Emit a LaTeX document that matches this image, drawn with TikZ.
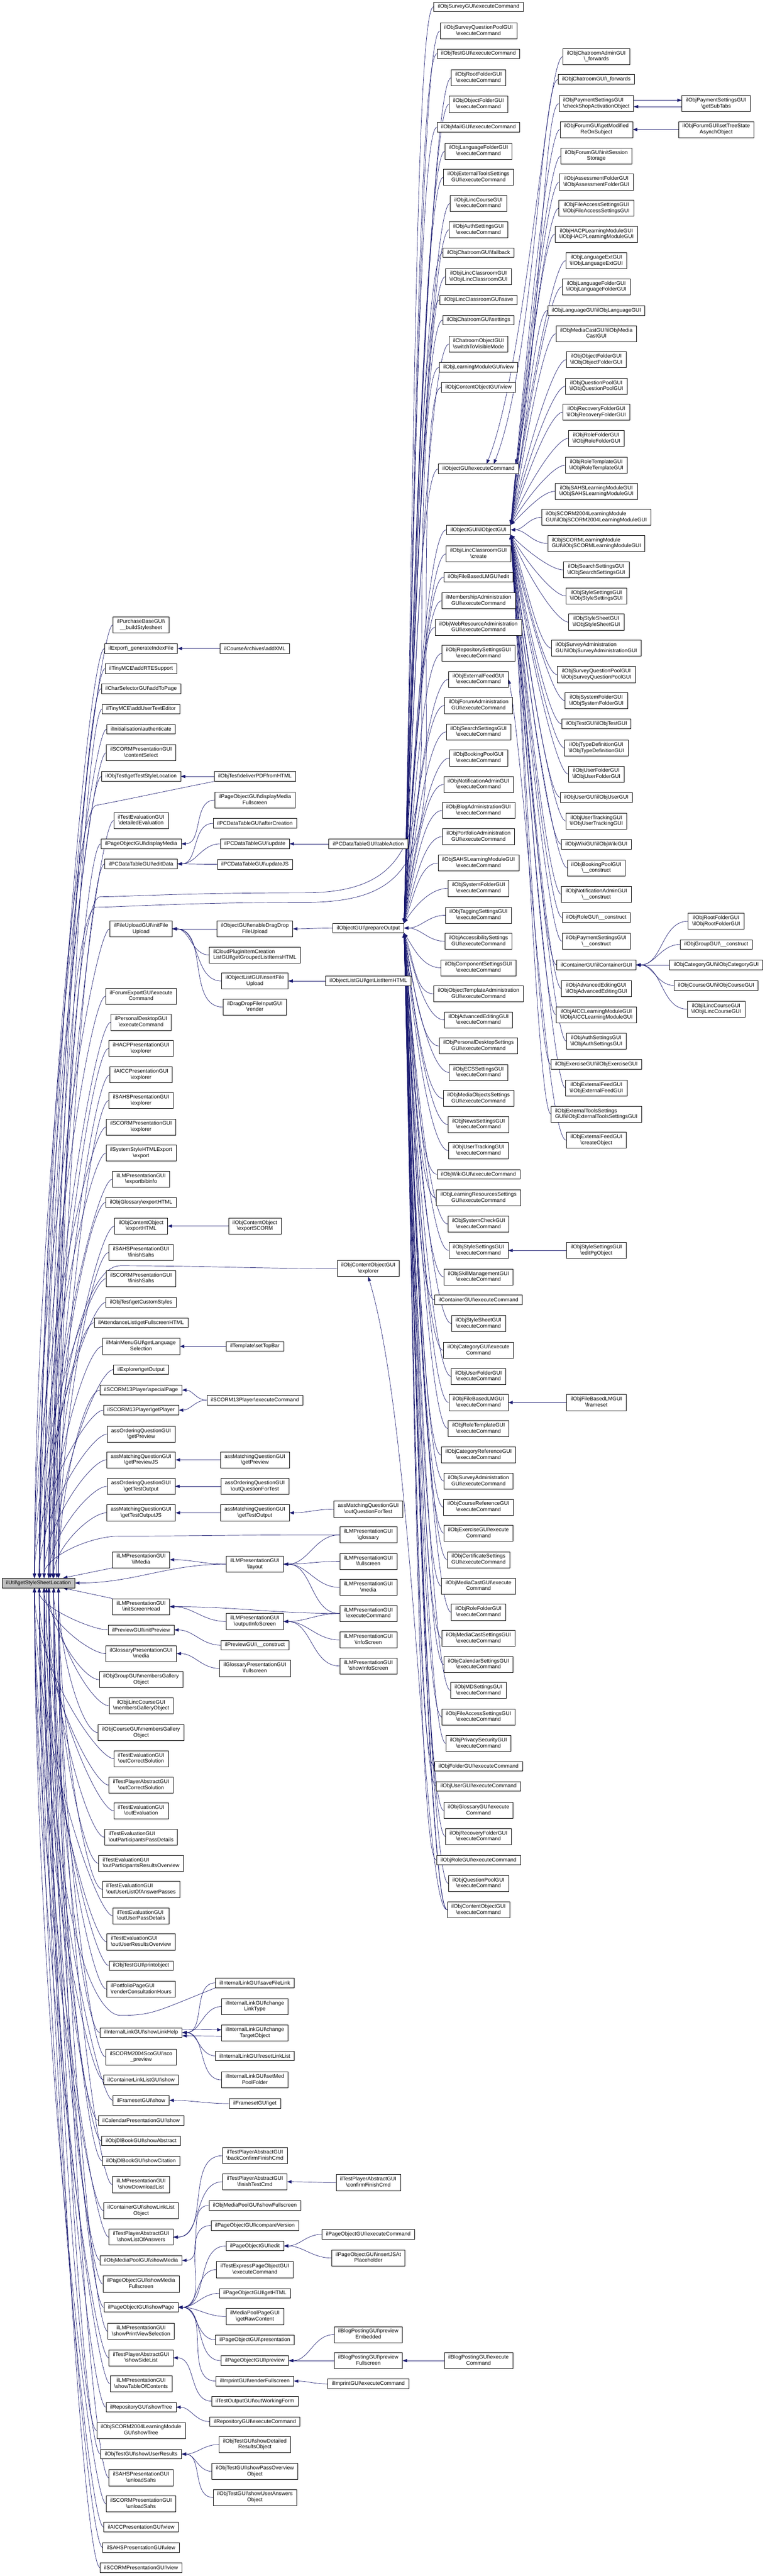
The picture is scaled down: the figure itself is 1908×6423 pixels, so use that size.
\documentclass[tikz,border=0pt]{standalone}
\usepackage{fontspec}
\newfontfamily\gfont{Liberation Sans}
\usetikzlibrary{arrows.meta,backgrounds}
\definecolor{edgecol}{HTML}{191970}
\definecolor{rootgray}{HTML}{BFBFBF}
\newcommand{\bsl}{\textbackslash}
\newcommand{\twol}[2]{\begin{tabular}{@{}c@{}}#1\\#2\end{tabular}}
\newcommand{\twoleft}[2]{\begin{tabular}{@{}l@{}}#1\\#2\end{tabular}}
\tikzset{
  fn/.style={draw=black, line width=0.9pt, fill=white, inner xsep=10pt, inner ysep=5pt,
    minimum height=24pt, font=\gfont\fontsize{13.3pt}{15pt}\selectfont},
  rootfn/.style={fn, fill=rootgray},
  call/.style={draw=edgecol, line width=0.9pt, -{Triangle[length=11pt,width=8pt]}},
}
\begin{document}
\begin{tikzpicture}[x=1pt,y=-1pt]
\useasboundingbox (0,0) rectangle (1908,6423);
\begin{pgfonlayer}{background}
  \fill[white] (0,0) rectangle (1908,6423);
\end{pgfonlayer}
% Wurzel
\node[rootfn] (root) at (96,3947) {ilUtil\bsl getStyleSheetLocation};
% Spalte B, oberhalb der Wurzel
\foreach \n/\y/\t [count=\i] in {
  bPurchase/1558/{\twol{ilPurchaseBaseGUI\bsl}{\_\_buildStylesheet}},
  bExport/1617/{ilExport\bsl\_generateIndexFile},
  bRte/1667/{ilTinyMCE\bsl addRTESupport},
  bCharSel/1717/{ilCharSelectorGUI\bsl addToPage},
  bUserEd/1768/{ilTinyMCE\bsl addUserTextEditor},
  bAuth/1818/{ilInitialisation\bsl authenticate},
  bScoSel/1877/{\twol{ilSCORMPresentationGUI}{\bsl contentSelect}},
  bTestStyle/1936/{ilObjTest\bsl getTestStyleLocation},
  bDetEval/2046/{\twol{ilTestEvaluationGUI}{\bsl detailedEvaluation}},
  bDispMedia/2104/{ilPageObjectGUI\bsl displayMedia},
  bEditData/2154/{ilPCDataTableGUI\bsl editData},
  bFileUp/2316/{\twol{ilFileUploadGUI\bsl initFile}{Upload}},
  bForumExp/2484/{\twol{ilForumExportGUI\bsl execute}{Command}},
  bPdExec/2549/{\twol{ilPersonalDesktopGUI}{\bsl executeCommand}},
  bHacpExpl/2614/{\twol{ilHACPPresentationGUI}{\bsl explorer}},
  bAiccExpl/2680/{\twol{ilAICCPresentationGUI}{\bsl explorer}},
  bSahsExpl/2744/{\twol{ilSAHSPresentationGUI}{\bsl explorer}},
  bScormExpl/2810/{\twol{ilSCORMPresentationGUI}{\bsl explorer}},
  bStyleExp/2875/{\twol{ilSystemStyleHTMLExport}{\bsl export}},
  bBibinfo/2940/{\twol{ilLMPresentationGUI}{\bsl exportbibinfo}},
  bGlossHtml/2998/{ilObjGlossary\bsl exportHTML},
  bCoHtml/3057/{\twol{ilObjContentObject}{\bsl exportHTML}},
  bSahsFinish/3123/{\twol{ilSAHSPresentationGUI}{\bsl finishSahs}},
  bScormFinish/3188/{\twol{ilSCORMPresentationGUI}{\bsl finishSahs}},
  bCustStyles/3247/{ilObjTest\bsl getCustomStyles},
  bAttend/3298/{ilAttendanceList\bsl getFullscreenHTML},
  bLangSel/3357/{\twol{ilMainMenuGUI\bsl getLanguage}{Selection}},
  bExplOut/3415/{ilExplorer\bsl getOutput},
  bSpecial/3466/{ilSCORM13Player\bsl specialPage},
  bPlayer/3516/{ilSCORM13Player\bsl getPlayer},
  bOrdPrev/3576/{\twol{assOrderingQuestionGUI}{\bsl getPreview}},
  bMatchPrevJs/3640/{\twol{assMatchingQuestionGUI}{\bsl getPreviewJS}},
  bOrdOut/3706/{\twol{assOrderingQuestionGUI}{\bsl getTestOutput}},
  bMatchOutJs/3772/{\twol{assMatchingQuestionGUI}{\bsl getTestOutputJS}}}{
  \node[fn] (\n) at (352,\y) {\t};
  \pgfmathsetmacro\kk{0.45*(3935-\y)}
  \pgfmathsetmacro\sx{mod(\i,6)*12-10}
  \begin{pgfonlayer}{background}
    \draw[call] (\n.west) .. controls +(-40,0) and +(0,-\kk) .. ([xshift=\sx pt]root.north);
  \end{pgfonlayer}
}
\node[fn] (bIlMedia) at (352,3889) {\twol{ilLMPresentationGUI}{\bsl ilMedia}};
\node[fn] (bInitHead) at (352,4006) {\twol{ilLMPresentationGUI}{\bsl initScreenHead}};
% Spalte B, unterhalb der Wurzel
\foreach \n/\y/\t [count=\i] in {
  bInitPrev/4064/{ilPreviewGUI\bsl initPreview},
  bGlossMedia/4123/{\twol{ilGlossaryPresentationGUI}{\bsl media}},
  bGrpGallery/4188/{\twol{ilObjGroupGUI\bsl membersGallery}{Object}},
  bLincGallery/4253/{\twol{ilObjiLincCourseGUI}{\bsl membersGalleryObject}},
  bCrsGallery/4320/{\twol{ilObjCourseGUI\bsl membersGallery}{Object}},
  bEvalCorr/4385/{\twol{ilTestEvaluationGUI}{\bsl outCorrectSolution}},
  bPlayCorr/4451/{\twol{ilTestPlayerAbstractGUI}{\bsl outCorrectSolution}},
  bEvalOut/4515/{\twol{ilTestEvaluationGUI}{\bsl outEvaluation}},
  bPassDet/4581/{\twoleft{ilTestEvaluationGUI}{\bsl outParticipantsPassDetails}},
  bResOv/4646/{\twoleft{ilTestEvaluationGUI}{\bsl outParticipantsResultsOverview}},
  bAnsPass/4711/{\twoleft{ilTestEvaluationGUI}{\bsl outUserListOfAnswerPasses}},
  bUserPass/4777/{\twoleft{ilTestEvaluationGUI}{\bsl outUserPassDetails}},
  bUserRes/4842/{\twoleft{ilTestEvaluationGUI}{\bsl outUserResultsOverview}},
  bPrint/4901/{ilObjTestGUI\bsl printobject},
  bConsult/4960/{\twoleft{ilPortfolioPageGUI}{\bsl renderConsultationHours}},
  bLinkHelp/5068/{ilInternalLinkGUI\bsl showLinkHelp},
  bScoPrev/5129/{\twol{ilSCORM2004ScoGUI\bsl sco}{\_preview}},
  bLinkList/5186/{ilContainerLinkListGUI\bsl show},
  bFrameShow/5237/{ilFramesetGUI\bsl show},
  bCalShow/5287/{ilCalendarPresentationGUI\bsl show},
  bAbstract/5338/{ilObjDlBookGUI\bsl showAbstract},
  bCitation/5388/{ilObjDlBookGUI\bsl showCitation},
  bDownload/5447/{\twol{ilLMPresentationGUI}{\bsl showDownloadList}},
  bLinkListObj/5512/{\twol{ilContainerGUI\bsl showLinkList}{Object}},
  bListAns/5578/{\twol{ilTestPlayerAbstractGUI}{\bsl showListOfAnswers}},
  bMpMedia/5636/{ilObjMediaPoolGUI\bsl showMedia},
  bMediaFull/5695/{\twol{ilPageObjectGUI\bsl showMedia}{Fullscreen}},
  bShowPage/5753/{ilPageObjectGUI\bsl showPage},
  bPrintSel/5813/{\twol{ilLMPresentationGUI}{\bsl showPrintViewSelection}},
  bSideList/5879/{\twol{ilTestPlayerAbstractGUI}{\bsl showSideList}},
  bToc/5944/{\twol{ilLMPresentationGUI}{\bsl showTableOfContents}},
  bRepoTree/6002/{ilRepositoryGUI\bsl showTree},
  bScormTree/6060/{\twol{ilObjSCORM2004LearningModule}{GUI\bsl showTree}},
  bUserResults/6119/{ilObjTestGUI\bsl showUserResults},
  bSahsUnload/6178/{\twol{ilSAHSPresentationGUI}{\bsl unloadSahs}},
  bScormUnload/6243/{\twol{ilSCORMPresentationGUI}{\bsl unloadSahs}},
  bAiccView/6301/{ilAICCPresentationGUI\bsl view},
  bSahsView/6352/{ilSAHSPresentationGUI\bsl view},
  bScormView/6402/{ilSCORMPresentationGUI\bsl view}}{
  \node[fn] (\n) at (352,\y) {\t};
  \pgfmathsetmacro\kk{0.45*(\y-3959)}
  \pgfmathsetmacro\sx{mod(\i,6)*12-10}
  \begin{pgfonlayer}{background}
    \draw[call] (\n.west) .. controls +(-40,0) and +(0,\kk) .. ([xshift=\sx pt]root.south);
  \end{pgfonlayer}
}
% Spalte C
\foreach \n/\y/\d/\t in {
  cAddXml/1617/bExport/{ilCourseArchives\bsl addXML},
  cPdf/1936/bTestStyle/{ilObjTest\bsl deliverPDFfromHTML},
  cDispFull/1995/bDispMedia/{\twol{ilPageObjectGUI\bsl displayMedia}{Fullscreen}},
  cAfterCr/2053/bEditData/{ilPCDataTableGUI\bsl afterCreation},
  cUpdate/2104/bEditData/{ilPCDataTableGUI\bsl update},
  cUpdateJs/2155/bEditData/{ilPCDataTableGUI\bsl updateJS},
  cDragDrop/2316/bFileUp/{\twol{ilObjectGUI\bsl enableDragDrop}{FileUpload}},
  cInsert/2446/bFileUp/{\twol{ilObjectListGUI\bsl insertFile}{Upload}},
  cDdRender/2511/bFileUp/{\twol{ilDragDropFileInputGUI}{\bsl render}},
  cScorm/3057/bCoHtml/{\twol{ilObjContentObject}{\bsl exportSCORM}},
  cTopBar/3357/bLangSel/{ilTemplate\bsl setTopBar},
  cPlayerExec/3491/bSpecial/{ilSCORM13Player\bsl executeCommand},
  cMatchPrev/3640/bMatchPrevJs/{\twol{assMatchingQuestionGUI}{\bsl getPreview}},
  cOrdQft/3706/bOrdOut/{\twol{assOrderingQuestionGUI}{\bsl outQuestionForTest}},
  cMatchOut/3772/bMatchOutJs/{\twol{assMatchingQuestionGUI}{\bsl getTestOutput}},
  cLayout/3900/bIlMedia/{\twol{ilLMPresentationGUI}{\bsl layout}},
  cOutInfo/4043/bInitHead/{\twol{ilLMPresentationGUI}{\bsl outputInfoScreen}},
  cPrevCtor/4102/bInitPrev/{ilPreviewGUI\bsl\_\_construct},
  cGlossFull/4160/bGlossMedia/{\twol{ilGlossaryPresentationGUI}{\bsl fullscreen}},
  cSaveFile/4944/bLinkHelp/{ilInternalLinkGUI\bsl saveFileLink},
  cChLink/5003/bLinkHelp/{\twol{ilInternalLinkGUI\bsl change}{LinkType}},
  cReset/5126/bLinkHelp/{ilInternalLinkGUI\bsl resetLinkList},
  cMedPool/5186/bLinkHelp/{\twol{ilInternalLinkGUI\bsl setMed}{PoolFolder}},
  cFrameGet/5245/bFrameShow/{ilFramesetGUI\bsl get},
  cBackConf/5375/bListAns/{\twol{ilTestPlayerAbstractGUI}{\bsl backConfirmFinishCmd}},
  cFinish/5440/bListAns/{\twol{ilTestPlayerAbstractGUI}{\bsl finishTestCmd}},
  cMpFull/5499/bMpMedia/{ilObjMediaPoolGUI\bsl showFullscreen},
  cCompare/5549/bShowPage/{ilPageObjectGUI\bsl compareVersion},
  cEdit/5600/bShowPage/{ilPageObjectGUI\bsl edit},
  cExpress/5659/bShowPage/{\twol{ilTestExpressPageObjectGUI}{\bsl executeCommand}},
  cGetHtml/5718/bShowPage/{ilPageObjectGUI\bsl getHTML},
  cRawCont/5776/bShowPage/{\twol{ilMediaPoolPageGUI}{\bsl getRawContent}},
  cPresent/5834/bShowPage/{ilPageObjectGUI\bsl presentation},
  cPreview/5886/bShowPage/{ilPageObjectGUI\bsl preview},
  cImprint/5937/bShowPage/{ilImprintGUI\bsl renderFullscreen},
  cWorkForm/5987/bSideList/{ilTestOutputGUI\bsl outWorkingForm},
  cRepoExec/6038/bRepoTree/{ilRepositoryGUI\bsl executeCommand},
  cDetRes/6095/bUserResults/{\twol{ilObjTestGUI\bsl showDetailed}{ResultsObject}},
  cPassOv/6162/bUserResults/{\twol{ilObjTestGUI\bsl showPassOverview}{Object}},
  cUserAns/6227/bUserResults/{\twol{ilObjTestGUI\bsl showUserAnswers}{Object}}}{
  \node[fn] (\n) at (636,\y) {\t};
  \begin{pgfonlayer}{background}
    \draw[call] (\n.west) to[out=180,in=0] (\d.east);
  \end{pgfonlayer}
}
\node[fn] (cCloud) at (636,2381) {\twoleft{ilCloudPluginItemCreation}{ListGUI\bsl getGroupedListItemsHTML}};
\node[fn] (cChTarget) at (636,5069) {\twol{ilInternalLinkGUI\bsl change}{TargetObject}};
% Spalte D
\foreach \n/\y/\d/\t in {
  dTableAct/2104/cUpdate/{ilPCDataTableGUI\bsl tableAction},
  prepare/2314/cDragDrop/{ilObjectGUI\bsl prepareOutput},
  dListHtml/2446/cInsert/{ilObjectListGUI\bsl getListItemHTML},
  dMatchQft/3763/cMatchOut/{\twol{assMatchingQuestionGUI}{\bsl outQuestionForTest}},
  dGloss/3827/cLayout/{\twol{ilLMPresentationGUI}{\bsl glossary}},
  dFull/3893/cLayout/{\twol{ilLMPresentationGUI}{\bsl fullscreen}},
  dMedia/3958/cLayout/{\twol{ilLMPresentationGUI}{\bsl media}},
  dLmExec/4023/cLayout/{\twol{ilLMPresentationGUI}{\bsl executeCommand}},
  dInfo/4089/cOutInfo/{\twol{ilLMPresentationGUI}{\bsl infoScreen}},
  dShowInfo/4154/cOutInfo/{\twol{ilLMPresentationGUI}{\bsl showInfoScreen}},
  dConfirm/5442/cFinish/{\twol{ilTestPlayerAbstractGUI}{\bsl confirmFinishCmd}},
  dPoExec/5571/cEdit/{ilPageObjectGUI\bsl executeCommand},
  dJsAt/5630/cEdit/{\twol{ilPageObjectGUI\bsl insertJSAt}{Placeholder}},
  dBlogEmb/5821/cPreview/{\twol{ilBlogPostingGUI\bsl preview}{Embedded}},
  dBlogFull/5886/cPreview/{\twol{ilBlogPostingGUI\bsl preview}{Fullscreen}},
  dImpExec/5944/cImprint/{ilImprintGUI\bsl executeCommand}}{
  \node[fn] (\n) at (919,\y) {\t};
  \begin{pgfonlayer}{background}
    \draw[call] (\n.west) to[out=180,in=0] (\d.east);
  \end{pgfonlayer}
}
\node[fn] (dCoExpl) at (919,3163) {\twol{ilObjContentObjectGUI}{\bsl explorer}};
% Spalte E, oberhalb prepareOutput
\foreach \n/\y/\t in {
  eSurvey/17/{ilObjSurveyGUI\bsl executeCommand},
  eSurveyPool/77/{\twol{ilObjSurveyQuestionPoolGUI}{\bsl executeCommand}},
  eTest/134/{ilObjTestGUI\bsl executeCommand},
  eRootFolder/194/{\twol{ilObjRootFolderGUI}{\bsl executeCommand}},
  eObjFolder/260/{\twol{ilObjObjectFolderGUI}{\bsl executeCommand}},
  eMail/317/{ilObjMailGUI\bsl executeCommand},
  eLangFolder/377/{\twol{ilObjLanguageFolderGUI}{\bsl executeCommand}},
  eExtTools/442/{\twol{ilObjExternalToolsSettings}{GUI\bsl executeCommand}},
  eLincCourse/507/{\twol{ilObjiLincCourseGUI}{\bsl executeCommand}},
  eAuth/573/{\twol{ilObjAuthSettingsGUI}{\bsl executeCommand}},
  eChatFallback/630/{ilObjChatroomGUI\bsl fallback},
  eLincClass/690/{\twol{ilObjiLincClassroomGUI}{\bsl ilObjiLincClassroomGUI}},
  eLincSave/748/{ilObjiLincClassroomGUI\bsl save},
  eChatSet/798/{ilObjChatroomGUI\bsl settings},
  eChatSwitch/858/{\twol{ilChatroomObjectGUI}{\bsl switchToVisibleMode}},
  objexec/1169/{ilObjectGUI\bsl executeCommand},
  objctor/1321/{ilObjectGUI\bsl ilObjectGUI},
  eLincCreate/1381/{\twol{ilObjiLincClassroomGUI}{\bsl create}},
  eFblmEdit/1439/{ilObjFileBasedLMGUI\bsl edit},
  eMembership/1498/{\twol{ilMembershipAdministration}{GUI\bsl executeCommand}},
  eWebRes/1564/{\twol{ilObjWebResourceAdministration}{GUI\bsl executeCommand}},
  eRepoSet/1629/{\twol{ilObjRepositorySettingsGUI}{\bsl executeCommand}},
  eFeed/1694/{\twol{ilObjExternalFeedGUI}{\bsl executeCommand}},
  eForumAdm/1759/{\twol{ilObjForumAdministration}{GUI\bsl executeCommand}},
  eSearchSet/1825/{\twol{ilObjSearchSettingsGUI}{\bsl executeCommand}},
  eBooking/1890/{\twol{ilObjBookingPoolGUI}{\bsl executeCommand}},
  eNotif/1956/{\twol{ilObjNotificationAdminGUI}{\bsl executeCommand}},
  eBlogAdm/2021/{\twol{ilObjBlogAdministrationGUI}{\bsl executeCommand}},
  ePortAdm/2086/{\twol{ilObjPortfolioAdministration}{GUI\bsl executeCommand}},
  eSahs/2152/{\twol{ilObjSAHSLearningModuleGUI}{\bsl executeCommand}},
  eSysFolder/2215/{\twol{ilObjSystemFolderGUI}{\bsl executeCommand}}}{
  \node[fn] (\n) at (1194,\y) {\t};
  \pgfmathsetmacro\kk{0.45*(2302-\y)}
  \begin{pgfonlayer}{background}
    \draw[call] (\n.west) .. controls +(-45,0) and +(25,-\kk) .. (prepare.north east);
  \end{pgfonlayer}
}
\node[fn] (eLmView) at (1194,916) {ilObjLearningModuleGUI\bsl view};
\node[fn] (eCoView) at (1194,966) {ilObjContentObjectGUI\bsl view};
\node[fn] (eTagging) at (1194,2282) {\twol{ilObjTaggingSettingsGUI}{\bsl executeCommand}};
\node[fn] (eAccess) at (1194,2347) {\twol{ilObjAccessibilitySettings}{GUI\bsl executeCommand}};
% Spalte E, unterhalb prepareOutput
\foreach \n/\y/\t in {
  eComponent/2413/{\twol{ilObjComponentSettingsGUI}{\bsl executeCommand}},
  eTemplAdm/2478/{\twol{ilObjObjectTemplateAdministration}{GUI\bsl executeCommand}},
  eAdvEdit/2543/{\twol{ilObjAdvancedEditingGUI}{\bsl executeCommand}},
  ePdSet/2608/{\twol{ilObjPersonalDesktopSettings}{GUI\bsl executeCommand}},
  eEcs/2674/{\twol{ilObjECSSettingsGUI}{\bsl executeCommand}},
  eMediaObj/2739/{\twol{ilObjMediaObjectsSettings}{GUI\bsl executeCommand}},
  eNews/2804/{\twol{ilObjNewsSettingsGUI}{\bsl executeCommand}},
  eUserTrack/2869/{\twol{ilObjUserTrackingGUI}{\bsl executeCommand}},
  eWiki/2928/{ilObjWikiGUI\bsl executeCommand},
  eLrSet/2987/{\twol{ilObjLearningResourcesSettings}{GUI\bsl executeCommand}},
  eSysCheck/3052/{\twol{ilObjSystemCheckGUI}{\bsl executeCommand}},
  eStyleSet/3118/{\twol{ilObjStyleSettingsGUI}{\bsl executeCommand}},
  eSkill/3184/{\twol{ilObjSkillManagementGUI}{\bsl executeCommand}},
  eContainer/3241/{ilContainerGUI\bsl executeCommand},
  eStyleSheet/3300/{\twol{ilObjStyleSheetGUI}{\bsl executeCommand}},
  eCategory/3367/{\twol{ilObjCategoryGUI\bsl execute}{Command}},
  eUserFolder/3432/{\twol{ilObjUserFolderGUI}{\bsl executeCommand}},
  eFblm/3497/{\twol{ilObjFileBasedLMGUI}{\bsl executeCommand}},
  eRoleTempl/3562/{\twol{ilObjRoleTemplateGUI}{\bsl executeCommand}},
  eCatRef/3628/{\twol{ilObjCategoryReferenceGUI}{\bsl executeCommand}},
  eSurveyAdm/3693/{\twol{ilObjSurveyAdministration}{GUI\bsl executeCommand}},
  eCrsRef/3758/{\twol{ilObjCourseReferenceGUI}{\bsl executeCommand}},
  eExercise/3823/{\twol{ilObjExerciseGUI\bsl execute}{Command}},
  eCertif/3889/{\twol{ilObjCertificateSettings}{GUI\bsl executeCommand}},
  eMediaCast/3955/{\twol{ilObjMediaCastGUI\bsl execute}{Command}},
  eRoleFolder/4020/{\twol{ilObjRoleFolderGUI}{\bsl executeCommand}},
  eMcSet/4085/{\twol{ilObjMediaCastSettingsGUI}{\bsl executeCommand}},
  eCalSet/4150/{\twol{ilObjCalendarSettingsGUI}{\bsl executeCommand}},
  eMdSet/4215/{\twol{ilObjMDSettingsGUI}{\bsl executeCommand}},
  eFileAcc/4281/{\twol{ilObjFileAccessSettingsGUI}{\bsl executeCommand}},
  ePrivacy/4347/{\twol{ilObjPrivacySecurityGUI}{\bsl executeCommand}},
  eFolder/4404/{ilObjFolderGUI\bsl executeCommand},
  eUser/4454/{ilObjUserGUI\bsl executeCommand},
  eGlossary/4514/{\twol{ilObjGlossaryGUI\bsl execute}{Command}},
  eRecovery/4579/{\twol{ilObjRecoveryFolderGUI}{\bsl executeCommand}},
  eRole/4638/{ilObjRoleGUI\bsl executeCommand},
  eQPool/4696/{\twol{ilObjQuestionPoolGUI}{\bsl executeCommand}},
  eCoExec/4762/{\twol{ilObjContentObjectGUI}{\bsl executeCommand}}}{
  \node[fn] (\n) at (1194,\y) {\t};
  \pgfmathsetmacro\kk{0.45*(\y-2326)}
  \begin{pgfonlayer}{background}
    \draw[call] (\n.west) .. controls +(-45,0) and +(25,\kk) .. (prepare.south east);
  \end{pgfonlayer}
}
\node[fn] (eBlogExec) at (1194,5886) {\twol{ilBlogPostingGUI\bsl execute}{Command}};
% Spalte F, oberhalb ilObjectGUI
\foreach \n/\y/\t in {
  fForumMod/323/{\twol{ilObjForumGUI\bsl getModified}{ReOnSubject}},
  fForumInit/389/{\twol{ilObjForumGUI\bsl initSession}{Storage}},
  fAssess/454/{\twol{ilObjAssessmentFolderGUI}{\bsl ilObjAssessmentFolderGUI}},
  fFileAcc/519/{\twol{ilObjFileAccessSettingsGUI}{\bsl ilObjFileAccessSettingsGUI}},
  fHacp/584/{\twol{ilObjHACPLearningModuleGUI}{\bsl ilObjHACPLearningModuleGUI}},
  fLangExt/650/{\twol{ilObjLanguageExtGUI}{\bsl ilObjLanguageExtGUI}},
  fLangFolder/715/{\twol{ilObjLanguageFolderGUI}{\bsl ilObjLanguageFolderGUI}},
  fLang/774/{ilObjLanguageGUI\bsl ilObjLanguageGUI},
  fMediaCast/832/{\twol{ilObjMediaCastGUI\bsl ilObjMedia}{CastGUI}},
  fObjFolder/897/{\twol{ilObjObjectFolderGUI}{\bsl ilObjObjectFolderGUI}},
  fQPool/963/{\twol{ilObjQuestionPoolGUI}{\bsl ilObjQuestionPoolGUI}},
  fRecovery/1028/{\twol{ilObjRecoveryFolderGUI}{\bsl ilObjRecoveryFolderGUI}},
  fRoleFolder/1093/{\twol{ilObjRoleFolderGUI}{\bsl ilObjRoleFolderGUI}},
  fRoleTempl/1160/{\twol{ilObjRoleTemplateGUI}{\bsl ilObjRoleTemplateGUI}},
  fSahs/1225/{\twol{ilObjSAHSLearningModuleGUI}{\bsl ilObjSAHSLearningModuleGUI}}}{
  \node[fn] (\n) at (1488,\y) {\t};
  \pgfmathsetmacro\kk{0.45*(1309-\y)}
  \begin{pgfonlayer}{background}
    \draw[call] (\n.west) .. controls +(-30,0) and +(40,-\kk) .. (objctor.north east);
  \end{pgfonlayer}
}
\node[fn] (fScorm2004) at (1488,1290) {\twoleft{ilObjSCORM2004LearningModule}{GUI\bsl ilObjSCORM2004LearningModuleGUI}};
\node[fn] (fScorm) at (1488,1355) {\twoleft{ilObjSCORMLearningModule}{GUI\bsl ilObjSCORMLearningModuleGUI}};
% Spalte F, unterhalb ilObjectGUI
\foreach \n/\y/\t in {
  fSearch/1421/{\twol{ilObjSearchSettingsGUI}{\bsl ilObjSearchSettingsGUI}},
  fStyleSet/1486/{\twol{ilObjStyleSettingsGUI}{\bsl ilObjStyleSettingsGUI}},
  fStyleSheet/1551/{\twol{ilObjStyleSheetGUI}{\bsl ilObjStyleSheetGUI}},
  fSurveyAdm/1616/{\twoleft{ilObjSurveyAdministration}{GUI\bsl ilObjSurveyAdministrationGUI}},
  fSurveyPool/1682/{\twol{ilObjSurveyQuestionPoolGUI}{\bsl ilObjSurveyQuestionPoolGUI}},
  fSysFolder/1747/{\twol{ilObjSystemFolderGUI}{\bsl ilObjSystemFolderGUI}},
  fTest/1805/{ilObjTestGUI\bsl ilObjTestGUI},
  fTypeDef/1865/{\twol{ilObjTypeDefinitionGUI}{\bsl ilObjTypeDefinitionGUI}},
  fUserFolder/1930/{\twol{ilObjUserFolderGUI}{\bsl ilObjUserFolderGUI}},
  fUser/1988/{ilObjUserGUI\bsl ilObjUserGUI},
  fUserTrack/2047/{\twol{ilObjUserTrackingGUI}{\bsl ilObjUserTrackingGUI}},
  fWiki/2105/{ilObjWikiGUI\bsl ilObjWikiGUI},
  fBooking/2164/{\twol{ilObjBookingPoolGUI}{\bsl\_\_construct}},
  fNotif/2230/{\twol{ilObjNotificationAdminGUI}{\bsl\_\_construct}},
  fRole/2288/{ilObjRoleGUI\bsl\_\_construct},
  fPaySet/2347/{\twol{ilObjPaymentSettingsGUI}{\bsl\_\_construct}},
  fContainer/2406/{ilContainerGUI\bsl ilContainerGUI},
  fAdvEdit/2465/{\twol{ilObjAdvancedEditingGUI}{\bsl ilObjAdvancedEditingGUI}},
  fAicc/2530/{\twol{ilObjAICCLearningModuleGUI}{\bsl ilObjAICCLearningModuleGUI}},
  fAuth/2596/{\twol{ilObjAuthSettingsGUI}{\bsl ilObjAuthSettingsGUI}},
  fExercise/2654/{ilObjExerciseGUI\bsl ilObjExerciseGUI},
  fFeed/2713/{\twol{ilObjExternalFeedGUI}{\bsl ilObjExternalFeedGUI}},
  fExtTools/2778/{\twoleft{ilObjExternalToolsSettings}{GUI\bsl ilObjExternalToolsSettingsGUI}}}{
  \node[fn] (\n) at (1488,\y) {\t};
  \pgfmathsetmacro\kk{0.45*(\y-1333)}
  \begin{pgfonlayer}{background}
    \draw[call] (\n.west) .. controls +(-30,0) and +(40,\kk) .. (objctor.south east);
  \end{pgfonlayer}
}
\node[fn] (fChatAdm) at (1488,141) {\twol{ilObjChatroomAdminGUI}{\bsl\_forwards}};
\node[fn] (fChat) at (1488,198) {ilObjChatroomGUI\bsl\_forwards};
\node[fn] (fPayCheck) at (1488,258) {\twoleft{ilObjPaymentSettingsGUI}{\bsl checkShopActivationObject}};
\node[fn] (fFeedCreate) at (1488,2843) {\twol{ilObjExternalFeedGUI}{\bsl createObject}};
\node[fn] (fEditPg) at (1488,3118) {\twol{ilObjStyleSettingsGUI}{\bsl editPgObject}};
\node[fn] (fFrameset) at (1488,3497) {\twol{ilObjFileBasedLMGUI}{\bsl frameset}};
% Spalte G
\foreach \n/\y/\d/\t in {
  gForumTree/323/fForumMod/{\twol{ilObjForumGUI\bsl setTreeState}{AsynchObject}},
  gRootFolder/2297/fContainer/{\twol{ilObjRootFolderGUI}{\bsl ilObjRootFolderGUI}},
  gGroup/2355/fContainer/{ilObjGroupGUI\bsl\_\_construct},
  gCategory/2406/fContainer/{ilObjCategoryGUI\bsl ilObjCategoryGUI},
  gCourse/2457/fContainer/{ilObjCourseGUI\bsl ilObjCourseGUI},
  gLincCourse/2516/fContainer/{\twol{ilObjiLincCourseGUI}{\bsl ilObjiLincCourseGUI}}}{
  \node[fn] (\n) at (1787,\y) {\t};
  \begin{pgfonlayer}{background}
    \draw[call] (\n.west) to[out=180,in=0] (\d.east);
  \end{pgfonlayer}
}
\node[fn] (gPayTabs) at (1787,258) {\twol{ilObjPaymentSettingsGUI}{\bsl getSubTabs}};
% einzelne Verbindungen
\begin{pgfonlayer}{background}
  \draw[call] (bIlMedia.south west) -- ([xshift=-30pt]root.north east);
  \draw[call] (bInitHead.north west) -- ([xshift=-30pt]root.south east);
  \draw[call] (cLayout.west) to[out=180,in=0] (root.east);
  \draw[call] (cPlayerExec.west) to[out=180,in=0] (bPlayer.east);
  \draw[call] (cCloud.west) to[out=180,in=0] (bFileUp.east);
  \draw[call] (dListHtml.west) -- (cInsert.east);
  \draw[call] (dLmExec.west) to[out=180,in=0] (bInitHead.east);
  \draw[call] (dLmExec.west) to[out=180,in=0] (cOutInfo.east);
  \draw[call] ([yshift=8pt]bLinkHelp.east) -- ([yshift=8pt]cChTarget.west);
  \draw[call] ([yshift=-8pt]cChTarget.west) -- ([yshift=-8pt]bLinkHelp.east);
  \draw[call] ([yshift=8pt]fPayCheck.east) -- ([yshift=8pt]gPayTabs.west);
  \draw[call] ([yshift=-8pt]gPayTabs.west) -- ([yshift=-8pt]fPayCheck.east);
  \draw[call] (eTagging.west) to[out=180,in=0] (prepare.east);
  \draw[call] (eAccess.west) to[out=180,in=0] (prepare.east);
  \draw[call] (fScorm2004.west) to[out=180,in=0] (objctor.east);
  \draw[call] (fScorm.west) to[out=180,in=0] (objctor.east);
  \draw[call] (fChatAdm.west) .. controls +(-40,0) and +(100,-250) .. ([xshift=-80pt]objexec.north east);
  \draw[call] (fChat.west) .. controls +(-40,0) and +(100,-250) .. ([xshift=-62pt]objexec.north east);
  \draw[call] (fPayCheck.west) .. controls +(-40,0) and +(60,-250) .. ([xshift=-8pt]objexec.north east);
  \draw[call] (fFeedCreate.west) .. controls +(-50,0) and +(40,200) .. (eFeed.east);
  \draw[call] (fEditPg.west) -- (eStyleSet.east);
  \draw[call] (fFrameset.west) -- (eFblm.east);
  \draw[call] (eBlogExec.west) -- (dBlogFull.east);
  \draw[call] (eCoExec.west) .. controls +(-60,0) and +(120,400) .. (dCoExpl.south);
  \draw[call] (eCoExec.west) .. controls +(-45,0) and +(25,1000) .. (prepare.south east);
  % lange Wege zur Wurzel
  \draw[call] (eLmView.west) .. controls +(-45,0) and +(0,-300) .. (1052,1800)
    .. controls +(0,300) and +(250,0) .. (760,2226)
    .. controls +(-300,0) and +(60,0) .. (250,2236)
    .. controls +(-60,0) and +(0,-900) .. ([xshift=46pt]root.north);
  \draw[call] (eCoView.west) .. controls +(-45,0) and +(0,-300) .. (1064,1850)
    .. controls +(0,300) and +(250,0) .. (760,2250)
    .. controls +(-300,0) and +(60,0) .. (240,2262)
    .. controls +(-60,0) and +(0,-900) .. ([xshift=36pt]root.north);
  \draw[call] (cPdf.south west) .. controls +(-150,30) and +(80,-15) .. (240,2008)
    .. controls +(-60,12) and +(0,-900) .. ([xshift=4pt]root.north);
  \draw[call] (dCoExpl.west) .. controls +(-200,0) and +(200,0) .. (300,3156)
    .. controls +(-100,0) and +(0,-400) .. ([xshift=30pt]root.north);
  \draw[call] (dGloss.west) .. controls +(-300,0) and +(200,0) .. (300,3830)
    .. controls +(-80,0) and +(0,-50) .. ([xshift=14pt]root.north);
  \draw[call] (cSaveFile.south west) .. controls +(-150,60) and +(80,0) .. (300,5025)
    .. controls +(-70,0) and +(0,800) .. ([xshift=20pt]root.south);
\end{pgfonlayer}
\end{tikzpicture}
\end{document}
